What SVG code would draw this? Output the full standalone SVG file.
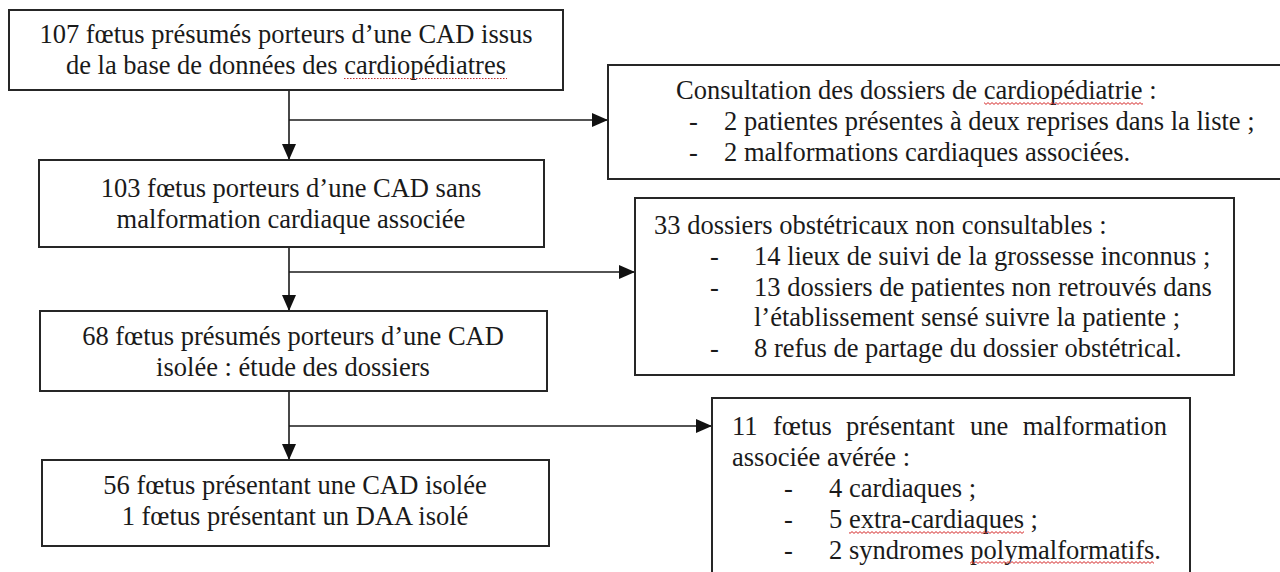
<svg xmlns="http://www.w3.org/2000/svg" width="1280" height="572" viewBox="0 0 1280 572">
<defs>
<style>
.box{fill:#fff;stroke:#262626;stroke-width:2}
.t{font-family:"Liberation Serif","Times New Roman",serif;font-size:26.5px;fill:#1a1a1a}
.c{text-anchor:middle}
.ln{fill:none;stroke:#1a1a1a;stroke-width:1.6}
.sq{fill:url(#wave)}
</style>
<pattern id="wave" x="0" y="0" width="4" height="3" patternUnits="userSpaceOnUse">
<path d="M0,0.6 L2,2.4 L4,0.6" fill="none" stroke="#d42a2a" stroke-width="1"/>
</pattern>
<marker id="ah" viewBox="0 0 16 14" refX="16" refY="7" markerWidth="16" markerHeight="14" markerUnits="userSpaceOnUse" orient="auto">
<path d="M0,0 L16,7 L0,14 Z" fill="#111"/>
</marker>
</defs>
<rect width="1280" height="572" fill="#fff"/>

<g id="connectors">
<line class="ln" x1="289" y1="90" x2="289" y2="160" marker-end="url(#ah)"/>
<line class="ln" x1="289" y1="120" x2="608" y2="120" marker-end="url(#ah)"/>
<line class="ln" x1="289" y1="247" x2="289" y2="311" marker-end="url(#ah)"/>
<line class="ln" x1="289" y1="272" x2="635" y2="272" marker-end="url(#ah)"/>
<line class="ln" x1="289" y1="391" x2="289" y2="460" marker-end="url(#ah)"/>
<line class="ln" x1="289" y1="426" x2="712" y2="426" marker-end="url(#ah)"/>
</g>

<g id="n1">
<rect class="box" x="9" y="10" width="554" height="80"/>
<text class="t c" x="286" y="43">107 fœtus présumés porteurs d’une CAD issus</text>
<text class="t c" x="286" y="74">de la base de données des cardiopédiatres</text>
<path d="M344,78.5 H507" fill="none" stroke="#c03030" stroke-width="1.2" stroke-dasharray="1.5 1.5"/>
</g>

<g id="n2">
<rect class="box" x="39" y="160" width="505" height="87"/>
<text class="t c" x="291" y="197">103 fœtus porteurs d’une CAD sans</text>
<text class="t c" x="291" y="228">malformation cardiaque associée</text>
</g>

<g id="n3">
<rect class="box" x="608" y="65" width="680" height="114"/>
<text class="t" x="676" y="99">Consultation des dossiers de cardiopédiatrie :</text>
<text class="t" x="689" y="130">-</text>
<text class="t" x="724" y="130">2 patientes présentes à deux reprises dans la liste ;</text>
<text class="t" x="689" y="161">-</text>
<text class="t" x="724" y="161">2 malformations cardiaques associées.</text>
<rect class="sq" x="984" y="102" width="159" height="3"/>
</g>

<g id="n4">
<rect class="box" x="635" y="198" width="599" height="177"/>
<text class="t" x="654" y="234">33 dossiers obstétricaux non consultables :</text>
<text class="t" x="710" y="265">-</text>
<text class="t" x="754" y="265">14 lieux de suivi de la grossesse inconnus ;</text>
<text class="t" x="710" y="296">-</text>
<text class="t" x="754" y="296">13 dossiers de patientes non retrouvés dans</text>
<text class="t" x="754" y="326">l’établissement sensé suivre la patiente ;</text>
<text class="t" x="710" y="357">-</text>
<text class="t" x="754" y="357">8 refus de partage du dossier obstétrical.</text>
</g>

<g id="n5">
<rect class="box" x="40" y="311" width="507" height="80"/>
<text class="t c" x="293" y="345">68 fœtus présumés porteurs d’une CAD</text>
<text class="t c" x="293" y="376">isolée : étude des dossiers</text>
</g>

<g id="n6">
<rect class="box" x="712" y="398" width="478" height="190"/>
<text class="t" y="435"><tspan x="732">11</tspan><tspan x="773">fœtus</tspan><tspan x="846">présentant</tspan><tspan x="970">une</tspan><tspan x="1167" text-anchor="end">malformation</tspan></text>
<text class="t" x="732" y="466">associée avérée :</text>
<text class="t" x="784" y="497">-</text>
<text class="t" x="829" y="497">4 cardiaques ;</text>
<text class="t" x="784" y="528">-</text>
<text class="t" x="829" y="528">5 extra-cardiaques ;</text>
<text class="t" x="784" y="559">-</text>
<text class="t" x="829" y="559">2 syndromes polymalformatifs.</text>
<rect class="sq" x="849" y="531" width="175" height="3"/>
<rect class="sq" x="970" y="561" width="184" height="3"/>
</g>

<g id="n7">
<rect class="box" x="42" y="460" width="507" height="86"/>
<text class="t c" x="295" y="494">56 fœtus présentant une CAD isolée</text>
<text class="t c" x="295" y="525">1 fœtus présentant un DAA isolé</text>
</g>
</svg>
